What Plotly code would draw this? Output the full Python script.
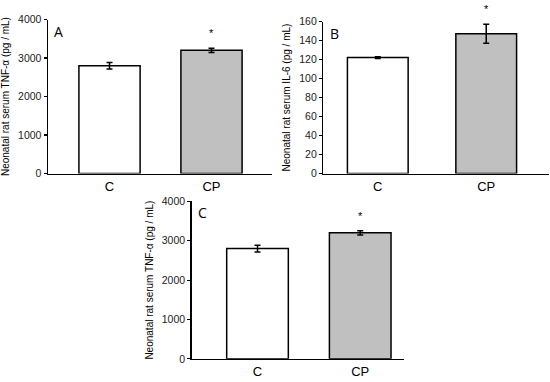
import plotly.graph_objects as go

categories = ["C", "CP"]
tnf_values = [2800, 3200]
tnf_errors = [85, 55]
il6_values = [122, 147]
il6_errors = [1, 10]
bar_colors = ["white", "#c0c0c0"]

y_title_tnf = "Neonatal rat serum TNF-α (pg / mL)"
y_title_il6 = "Neonatal rat serum IL-6 (pg / mL)"

fig = go.Figure()

panels = [
    dict(vals=tnf_values, errs=tnf_errors, xa="x", ya="y", width=0.6),
    dict(vals=il6_values, errs=il6_errors, xa="x2", ya="y2", width=0.56),
    dict(vals=tnf_values, errs=tnf_errors, xa="x3", ya="y3", width=0.6),
]
for p in panels:
    fig.add_trace(go.Bar(
        x=categories, y=p["vals"], xaxis=p["xa"], yaxis=p["ya"],
        width=p["width"],
        marker=dict(color=bar_colors, line=dict(color="black", width=1.5)),
        error_y=dict(type="data", array=p["errs"], visible=True,
                     color="black", thickness=1.5, width=3),
        showlegend=False, hoverinfo="skip",
    ))
    # significance asterisk above the CP bar's error bar
    fig.add_annotation(
        text="*", x=categories[1], y=p["vals"][1] + p["errs"][1],
        xref=p["xa"], yref=p["ya"], showarrow=False,
        yanchor="middle", yshift=15,
        font=dict(family="Liberation Sans, Arial", size=11, color="black"),
    )

tick_font = dict(family="Liberation Sans, Arial", size=10.5, color="#222")
cat_font = dict(family="Liberation Sans, Arial", size=13, color="black")
title_font = dict(family="Liberation Sans, Arial", size=10, color="black")

def xaxis(domain, rng, anchor):
    return dict(domain=domain, range=rng, anchor=anchor, showline=True,
                linecolor="black", linewidth=1.5, ticks="", showgrid=False,
                tickfont=cat_font, zeroline=False, fixedrange=True)

def yaxis(domain, rng, dtick, title, anchor):
    return dict(domain=domain, range=rng, dtick=dtick, anchor=anchor,
                showline=True, linecolor="black", linewidth=1.5,
                ticks="outside", ticklen=3, tickwidth=1.2, tickcolor="black",
                showgrid=False, zeroline=False, tickfont=tick_font,
                title=dict(text=title, font=title_font, standoff=6),
                fixedrange=True)

fig.update_layout(
    width=550, height=382,
    margin=dict(l=0, r=0, t=0, b=0),
    paper_bgcolor="white", plot_bgcolor="white",
    xaxis=xaxis([0.0873, 0.4945], [-0.603, 1.593], "y"),
    yaxis=yaxis([0.5471, 0.9634], [0, 4000], 1000, y_title_tnf, "x"),
    xaxis2=xaxis([0.5879, 0.998], [-0.502, 1.578], "y2"),
    yaxis2=yaxis([0.5471, 0.9581], [0, 160], 20, y_title_il6, "x2"),
    xaxis3=xaxis([0.3485, 0.7345], [-0.641, 1.426], "y3"),
    yaxis3=yaxis([0.0463, 0.472], [0, 4000], 1000, y_title_tnf, "x3"),
)

letter_font = dict(family="Open Sans, Lato", size=14, color="black")
for letter, xa, ya in [("A", "x", "y"), ("B", "x2", "y2"), ("C", "x3", "y3")]:
    fig.add_annotation(text=letter, xref=f"{xa} domain", yref=f"{ya} domain",
                       x=0.02, y=1.0, xanchor="left", yanchor="top",
                       showarrow=False, font=letter_font)

fig.write_html("out.html",
               config={"displayModeBar": False, "staticPlot": True},
               post_script="document.body.style.margin='0';")
